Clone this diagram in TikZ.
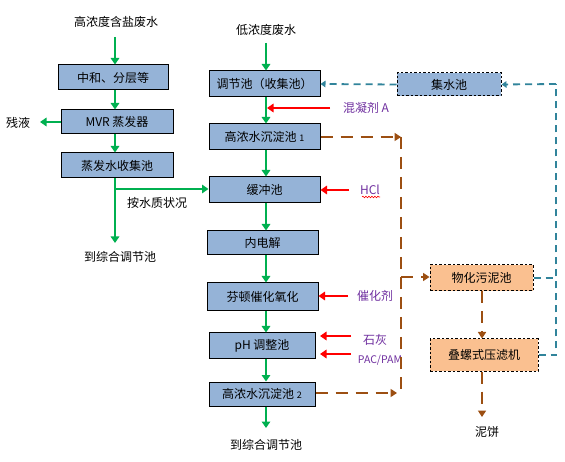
\documentclass[tikz,border=0pt]{standalone}
\usepackage{fontspec}
\setmainfont{Noto Sans CJK SC}
\usetikzlibrary{arrows.meta,decorations.pathmorphing}
\definecolor{boxblue}{HTML}{95B3D7}
\definecolor{boxorange}{HTML}{FAC090}
\definecolor{gr}{HTML}{00B050}
\definecolor{brn}{HTML}{9C4F12}
\definecolor{teal2}{HTML}{31849B}
\definecolor{purp}{HTML}{7030A0}
\begin{document}
\begin{tikzpicture}[x=1pt,y=-1pt,
  font=\fontsize{12pt}{14pt}\selectfont,
  bbox/.style={draw=black,line width=1pt,fill=boxblue,inner sep=0pt,align=center},
  dbox/.style={draw=black,dashed,dash pattern=on 2.5pt off 2pt,line width=1pt,inner sep=0pt,align=center},
  garrow/.style={draw=gr,line width=2.8pt,-{Triangle[length=6.5pt,width=8.5pt]}},
  rarrow/.style={draw=red,line width=2.8pt,-{Triangle[length=6.5pt,width=8.5pt]}},
  barrow/.style={draw=brn,line width=2.4pt,dash pattern=on 12pt off 8pt,-{Triangle[length=6.5pt,width=8pt]}},
  bline/.style={draw=brn,line width=2.4pt,dash pattern=on 12pt off 8pt},
  tarrow/.style={draw=teal2,line width=1.8pt,dash pattern=on 7pt off 5pt,-{Triangle[length=5pt,width=6.5pt]}},
  tline/.style={draw=teal2,line width=1.8pt,dash pattern=on 7pt off 5pt},
  lab/.style={text=purp,inner sep=0pt}]
\useasboundingbox (0,0) rectangle (565,462);
\fill[white] (0,0) rectangle (565,462);

% left column
\node (tL) at (116,22) {高浓度含盐废水};
\node[bbox,minimum width=110pt,minimum height=25pt] (b1) at (113,77.5) {中和、分层等};
\node[bbox,minimum width=112pt,minimum height=24pt] (b2) at (117,122) {MVR 蒸发器};
\node[bbox,minimum width=112pt,minimum height=25pt] (b3) at (117,165.5) {蒸发水收集池};
\node (cy) at (18,123) {残液};
\node (bL) at (120,257) {到综合调节池};
\node (anq) at (157,203) {按水质状况};
\coordinate (xL) at (115,0);
\coordinate (jL) at (115,189);
\coordinate (eL) at (115,243);
\coordinate (sL) at (115,37);

% middle column
\node (tM) at (266,30) {低浓度废水};
\node[bbox,minimum width=111pt,minimum height=26pt] (m1) at (264.5,84) {调节池（收集池）};
\node[bbox,minimum width=111pt,minimum height=26pt] (m2) at (264.5,137) {高浓水沉淀池 {\small 1}};
\node[bbox,minimum width=111pt,minimum height=26pt] (m3) at (264.5,190) {缓冲池};
\node[bbox,minimum width=111pt,minimum height=24pt] (m4) at (262.5,243) {内电解};
\node[bbox,minimum width=111pt,minimum height=28pt] (m5) at (262.5,297) {芬顿催化氧化};
\node[bbox,minimum width=106pt,minimum height=25pt] (m6) at (262,345.5) {pH 调整池};
\node[bbox,minimum width=106pt,minimum height=24pt] (m7) at (262,394) {高浓水沉淀池 {\small 2}};
\node (bM) at (266,445) {到综合调节池};
\coordinate (xM) at (266,0);
\coordinate (sM) at (266,43);
\coordinate (eM) at (266,428);

% right column
\node[dbox,fill=boxblue,minimum width=104pt,minimum height=23pt] (r0) at (449,84.5) {集水池};
\node[dbox,fill=boxorange,minimum width=103pt,minimum height=26pt] (r1) at (481.5,278) {物化污泥池};
\node[dbox,fill=boxorange,minimum width=108pt,minimum height=32pt] (r2) at (484,355) {叠螺式压滤机};
\node (nb) at (487,432) {泥饼};
\coordinate (xR) at (482,0);
\coordinate (eR) at (482,417);

% chemical labels
\node[lab] (l1) at (366,108) {混凝剂 A};
\node[lab] (l2) at (370,190) {HCl};
\node[lab] (l3) at (375,296) {催化剂};
\node[lab] (l4) at (375,340) {石灰};
\node[lab,font=\fontsize{10.5pt}{12pt}\selectfont] (l5) at (380,360) {PAC/PAM};
\draw[red,line width=0.6pt,decorate,decoration={snake,amplitude=0.8pt,segment length=3pt}] (362,197) -- (380,197);

% green flows left
\draw[garrow] (sL) -- (b1.north -| xL);
\draw[garrow] (b1.south -| xL) -- (b2.north -| xL);
\draw[garrow] (b2.south -| xL) -- (b3.north -| xL);
\draw[garrow] (b2.west) -- (40,122);
\draw[garrow] (b3.south -| xL) -- (eL);
\draw[garrow] (jL) -- (jL -| m3.west);

% green flows middle
\draw[garrow] (sM) -- (m1.north -| xM);
\draw[garrow] (m1.south -| xM) -- (m2.north -| xM);
\draw[garrow] (m2.south -| xM) -- (m3.north -| xM);
\draw[garrow] (m3.south -| xM) -- (m4.north -| xM);
\draw[garrow] (m4.south -| xM) -- (m5.north -| xM);
\draw[garrow] (m5.south -| xM) -- (m6.north -| xM);
\draw[garrow] (m6.south -| xM) -- (m7.north -| xM);
\draw[garrow] (m7.south -| xM) -- (eM);

% red chemical arrows
\draw[rarrow] (330,108) -- (267,108);
\draw[rarrow] (349,190) -- (m3.east);
\draw[rarrow] (348,296) -- (m5.east |- 0,296);
\draw[rarrow] (351,336) -- (320,336);
\draw[rarrow] (351,354) -- (320,354);

% brown sludge lines
\coordinate (bt) at (401,137);
\coordinate (bb) at (401,393);
\coordinate (bj) at (401,277);
\draw[barrow] (m2.east) -- (bt);
\draw[bline] (bt) -- (bb);
\draw[barrow] (m7.east |- bb) -- (397,393);
\draw[barrow] (bj) -- (r1.west |- bj);
\draw[barrow] (r1.south -| xR) -- (r2.north -| xR);
\draw[barrow] (r2.south -| xR) -- (eR);

% teal return lines
\coordinate (tc) at (556,84);
\draw[tline] (r1.east) -- (r1.east -| tc);
\draw[tline] (r2.east) -- (r2.east -| tc) -- (tc);
\draw[tarrow] (tc) -- (r0.east);
\draw[tarrow] (r0.west) -- (m1.east);
\end{tikzpicture}
\end{document}
